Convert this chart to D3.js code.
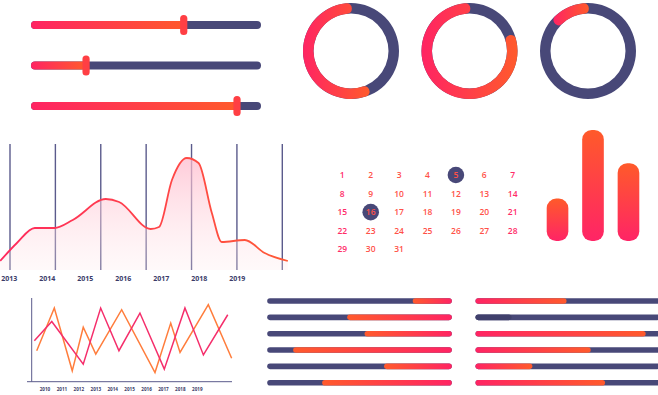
<!DOCTYPE html>
<html><head><meta charset="utf-8">
<script src="https://cdn.jsdelivr.net/npm/d3@7"></script>
<style>html,body{margin:0;padding:0;background:#fff;}svg{display:block;}</style>
</head><body>
<script>
// ---------- DATA ----------
const sliderValues = [67, 23, 91];
const donutValues = [57, 81, 14];
const areaYears = [2013, 2014, 2015, 2016, 2017, 2018, 2019];
const areaX = [2012.76, 2013.2, 2013.67, 2014.19, 2014.67, 2015.54, 2015.89, 2016.72, 2016.94, 2017.28, 2017.67, 2017.98, 2018.33, 2018.59, 2019.2, 2019.72, 2020.33];
const areaV = [9, 27, 42, 42, 50, 71, 68, 41, 43, 90, 112, 107, 57, 28, 30, 17, 9];
const gridCount = 7;
const calendarDays = d3.range(1, 32);
const highlightDays = [5, 16];
const barValues = [42, 110, 77];
const lineYears = [2010, 2011, 2012, 2013, 2014, 2015, 2016, 2017, 2018, 2019];
const orangeX = [2009.51, 2010.55, 2011.61, 2012.26, 2013.0, 2014.53, 2016.5, 2017.43, 2017.98, 2019.65, 2021.03];
const orangeV = [37, 88, 13, 65, 33, 86, 11, 70, 35, 92, 28];
const pinkX = [2009.37, 2010.4, 2012.26, 2013.29, 2014.37, 2015.61, 2017.05, 2018.27, 2019.36, 2020.8];
const pinkV = [49, 72, 21, 88, 37, 82, 15, 88, 32, 80];
const leftProgress = [18.7, 55.3, 45.6, 85.5, 34.7, 69.3];   // filled from the right
const rightProgress = [49.3, 18.6, 93.5, 62.8, 30.2, 70.8];  // filled from the left
const rightMuted = [false, true, false, false, false, false];

// ---------- STYLE ----------
const PINK = "#ff2463", ORANGE = "#ff5a2c", NAVY = "#484878";

const svg = d3.select("body").append("svg").attr("width", 658).attr("height", 395);
const defs = svg.append("defs");
function grad(id, c1, c2, vertical) {
  const g = defs.append("linearGradient").attr("id", id)
    .attr("x1", 0).attr("y1", 0).attr("x2", vertical ? 0 : 1).attr("y2", vertical ? 1 : 0);
  g.append("stop").attr("offset", 0).attr("stop-color", c1);
  g.append("stop").attr("offset", 1).attr("stop-color", c2);
}
grad("gPO", PINK, ORANGE, false);
grad("gOP", ORANGE, PINK, false);
grad("gOPv", "#ff5a2a", "#ff2466", true);

// ---------- SLIDERS ----------
const sx = d3.scaleLinear().domain([0, 100]).range([35, 257]);
const sy = d3.scalePoint().domain(d3.range(3)).range([25, 106]);
sliderValues.forEach((v, i) => {
  const y = sy(i);
  svg.append("line").attr("x1", sx(0)).attr("x2", sx(100)).attr("y1", y).attr("y2", y)
    .attr("stroke", NAVY).attr("stroke-width", 8).attr("stroke-linecap", "round");
  svg.append("rect").attr("x", sx(0) - 4).attr("y", y - 4).attr("width", sx(v) - sx(0) + 4).attr("height", 8)
    .attr("rx", 4).attr("fill", "url(#gPO)");
  svg.append("rect").attr("x", sx(v) - 3.6).attr("y", y - 10).attr("width", 7.2).attr("height", 20)
    .attr("rx", 3.5).attr("fill", "#ff3f44");
});

// ---------- DONUTS ----------
const donutX = d3.scalePoint().domain(d3.range(3)).range([351, 588]);
const arcBg = d3.arc().innerRadius(37.5).outerRadius(48).startAngle(0).endAngle(2 * Math.PI);
const arcFg = d3.arc().innerRadius(37.5).outerRadius(48).cornerRadius(5.2);
donutValues.forEach((v, i) => {
  const g = svg.append("g").attr("transform", `translate(${donutX(i)},51)`);
  g.append("path").attr("d", arcBg()).attr("fill", NAVY);
  g.append("path").attr("d", arcFg({ startAngle: -v / 100 * 2 * Math.PI, endAngle: 0.02 }))
    .attr("fill", "url(#gPO)");
});

// ---------- AREA CHART ----------
const gx = d3.scaleLinear().domain([0, gridCount - 1]).range([10, 282.3]);
const ax = d3.scaleLinear().domain([2013, 2019]).range([9.3, 237.3]);
const ay = d3.scaleLinear().domain([0, 126]).range([270, 144]);
const aFill = defs.append("linearGradient").attr("id", "aFill").attr("gradientUnits", "userSpaceOnUse")
  .attr("x1", 0).attr("y1", 155).attr("x2", 0).attr("y2", 270);
aFill.append("stop").attr("offset", 0).attr("stop-color", "#ffb8cb").attr("stop-opacity", 0.75);
aFill.append("stop").attr("offset", 1).attr("stop-color", "#ffe8ea").attr("stop-opacity", 0.25);
const aLine = defs.append("linearGradient").attr("id", "aLine").attr("gradientUnits", "userSpaceOnUse")
  .attr("x1", 0).attr("y1", 0).attr("x2", 290).attr("y2", 0);
aLine.append("stop").attr("offset", 0).attr("stop-color", "#ff2a5e");
aLine.append("stop").attr("offset", 1).attr("stop-color", "#ff5a36");

d3.range(gridCount).forEach(i => {
  svg.append("line").attr("x1", gx(i)).attr("x2", gx(i)).attr("y1", ay(126)).attr("y2", ay(0))
    .attr("stroke", "#5b5b8c").attr("stroke-width", 1.4);
});
const pts = areaX.map((x, i) => [x, areaV[i]]);
svg.append("path").datum(pts)
  .attr("d", d3.area().x(d => ax(d[0])).y0(ay(0)).y1(d => ay(d[1])).curve(d3.curveMonotoneX))
  .attr("fill", "url(#aFill)");
svg.append("path").datum(pts)
  .attr("d", d3.line().x(d => ax(d[0])).y(d => ay(d[1])).curve(d3.curveMonotoneX))
  .attr("fill", "none").attr("stroke", "url(#aLine)").attr("stroke-width", 1.8);
svg.append("g").selectAll("text").data(areaYears).join("text")
  .attr("x", d => ax(d)).attr("y", 280.5).attr("text-anchor", "middle")
  .attr("font-family", "Open Sans").attr("font-weight", 700).attr("font-size", 7)
  .attr("fill", "#3b3b68").text(d => d);

// ---------- CALENDAR ----------
const cx = d3.scalePoint().domain(d3.range(7)).range([342.3, 512.7]);
const cy = d3.scalePoint().domain(d3.range(5)).range([175, 249.3]);
highlightDays.forEach(d => {
  svg.append("circle").attr("cx", cx((d - 1) % 7)).attr("cy", cy(Math.floor((d - 1) / 7)))
    .attr("r", 8.3).attr("fill", NAVY);
});
svg.append("g").selectAll("text").data(calendarDays).join("text")
  .attr("x", d => cx((d - 1) % 7)).attr("y", d => cy(Math.floor((d - 1) / 7)) + 3)
  .attr("text-anchor", "middle").attr("font-family", "Open Sans").attr("font-weight", 600)
  .attr("font-size", 8.5)
  .attr("fill", d => { const c = (d - 1) % 7; return (c === 0 || c === 6) ? "#ff2c68" : "#ff5148"; })
  .text(d => d);

// ---------- BAR CHART ----------
const bx = d3.scaleBand().domain(d3.range(3)).range([546.7, 639.3]).paddingInner(0.39).paddingOuter(0);
const by = d3.scaleLinear().domain([0, 110]).range([241, 130]);
svg.append("g").selectAll("rect").data(barValues).join("rect")
  .attr("x", (d, i) => bx(i)).attr("width", bx.bandwidth())
  .attr("y", d => by(d)).attr("height", d => by(0) - by(d))
  .attr("rx", 9.5).attr("fill", "url(#gOPv)");

// ---------- LINE CHART ----------
const lx = d3.scaleLinear().domain([2010, 2019]).range([45, 197.3]);
const ly = d3.scaleLinear().domain([0, 100]).range([381.7, 298]);
svg.append("line").attr("x1", 31.7).attr("x2", 31.7).attr("y1", 298).attr("y2", 381.7)
  .attr("stroke", "#5b5b8c").attr("stroke-width", 1);
svg.append("line").attr("x1", 27).attr("x2", 232).attr("y1", 381.7).attr("y2", 381.7)
  .attr("stroke", "#5b5b8c").attr("stroke-width", 1);
const lineGen = d3.line().x(d => lx(d[0])).y(d => ly(d[1]));
svg.append("path").datum(orangeX.map((x, i) => [x, orangeV[i]])).attr("d", lineGen)
  .attr("fill", "none").attr("stroke", "#ff7d3c").attr("stroke-width", 1.5);
svg.append("path").datum(pinkX.map((x, i) => [x, pinkV[i]])).attr("d", lineGen)
  .attr("fill", "none").attr("stroke", "#f52e6b").attr("stroke-width", 1.5);
svg.append("g").selectAll("text").data(lineYears).join("text")
  .attr("x", d => lx(d)).attr("y", 390.5).attr("text-anchor", "middle")
  .attr("font-family", "Open Sans").attr("font-weight", 700).attr("font-size", 4.6)
  .attr("fill", "#3b3b68").text(d => d);

// ---------- PROGRESS BARS ----------
const py = d3.scalePoint().domain(d3.range(6)).range([301, 382.7]);
const plx = d3.scaleLinear().domain([0, 100]).range([270, 449]);
const prx = d3.scaleLinear().domain([0, 100]).range([478.3, 657.3]);
const TH = 5.6;
leftProgress.forEach((v, i) => {
  const y = py(i);
  svg.append("rect").attr("x", plx(0) - TH / 2).attr("y", y - TH / 2).attr("width", plx(100) - plx(0) + TH)
    .attr("height", TH).attr("rx", TH / 2).attr("fill", NAVY);
  svg.append("rect").attr("x", plx(100 - v) - TH / 2).attr("y", y - TH / 2).attr("width", plx(100) - plx(100 - v) + TH)
    .attr("height", TH).attr("rx", TH / 2).attr("fill", "url(#gOP)");
});
rightProgress.forEach((v, i) => {
  const y = py(i);
  svg.append("rect").attr("x", prx(0) - TH / 2).attr("y", y - TH / 2).attr("width", prx(100) - prx(0) + TH)
    .attr("height", TH).attr("rx", TH / 2).attr("fill", NAVY);
  svg.append("rect").attr("x", prx(0) - TH / 2).attr("y", y - TH / 2).attr("width", prx(v) - prx(0) + TH / 2)
    .attr("height", TH).attr("rx", TH / 2).attr("fill", rightMuted[i] ? "#40406c" : "url(#gPO)");
});
</script>
</body></html>
